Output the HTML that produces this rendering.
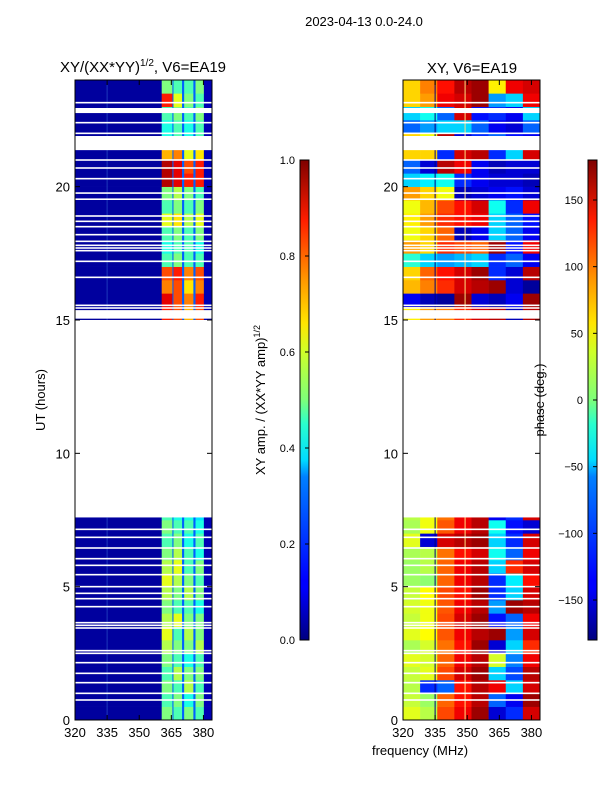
<!DOCTYPE html>
<html><head><meta charset="utf-8"><style>
body{margin:0;background:#fff;}
svg{display:block;font-family:"Liberation Sans","DejaVu Sans",sans-serif;}
</style></head><body>
<svg id="fig" width="600" height="800" viewBox="0 0 600 800">
<defs>
<linearGradient id="jet" x1="0" y1="1" x2="0" y2="0">
<stop offset="0" stop-color="#00007f"/><stop offset="0.11" stop-color="#0000ff"/><stop offset="0.125" stop-color="#0000ff"/>
<stop offset="0.34" stop-color="#0080ff"/><stop offset="0.375" stop-color="#00dcff"/><stop offset="0.45" stop-color="#29ffce"/>
<stop offset="0.5" stop-color="#7dff7a"/><stop offset="0.6" stop-color="#ceff29"/><stop offset="0.66" stop-color="#ffe500"/>
<stop offset="0.75" stop-color="#ff9800"/><stop offset="0.875" stop-color="#ff1d00"/><stop offset="1" stop-color="#7f0000"/>
</linearGradient>
</defs>
<g id="left"></g>
<g id="right"></g>
<g id="axes"></g>
<text x="364" y="26" font-size="13" text-anchor="middle">2023-04-13 0.0-24.0</text>
<text x="143" y="72" font-size="15" text-anchor="middle">XY/(XX*YY)<tspan font-size="10" dy="-6">1/2</tspan><tspan dy="6">, V6=EA19</tspan></text>
<text x="472" y="73" font-size="15" text-anchor="middle">XY, V6=EA19</text>
<text transform="translate(45,400) rotate(-90)" font-size="13" text-anchor="middle">UT (hours)</text>
<text x="420" y="755" font-size="13" text-anchor="middle">frequency (MHz)</text>
<text transform="translate(265,400) rotate(-90)" font-size="13" text-anchor="middle">XY amp. / (XX*YY amp)<tspan font-size="9" dy="-5">1/2</tspan></text>
<text transform="translate(544,400) rotate(-90)" font-size="13" text-anchor="middle">phase (deg.)</text>
<rect x="300" y="160" width="9" height="480" fill="url(#jet)" stroke="#000" stroke-width="1"/>
<rect x="588" y="160" width="9" height="480" fill="url(#jet)" stroke="#000" stroke-width="1"/>
<g id="cbticks"></g>
</svg>
<script>
// ---- data ----
const rowT0 = [0,0.5,1,1.5,2,2.5,3,3.5,4,4.5,5,5.5,6,6.5,7,7.5,15,15.5,16,16.5,17,17.5,18,18.5,19,19.5,20,20.5,21,21.5,22,22.5,23,23.5];
const rowT1 = [0.5,1,1.5,2,2.5,3,3.5,4,4.5,5,5.5,6,6.5,7,7.5,7.6,15.5,16,16.5,17,17.5,18,18.5,19,19.5,20,20.5,21,21.5,22,22.5,23,23.5,24];
const ampFreqEdges = [320,360.5,365.5,366,370,371,375.3,376.3,380.2,384];
const ampBg = 0.03, ampGap = 0.22, ampRight = 0.05;
const ampA = [0.5,0.45,0.5,0.45,0.5,0.55,0.6,0.55,0.5,0.55,0.6,0.55,0.5,0.45,0.5,0.45,0.85,0.9,0.75,0.8,0.45,0.4,0.45,0.6,0.45,0.5,0.95,0.95,0.7,0.4,0.4,0.45,0.85,0.5];
const ampB = [0.45,0.5,0.45,0.55,0.45,0.5,0.45,0.6,0.45,0.5,0.55,0.6,0.55,0.5,0.45,0.4,0.8,0.8,0.8,0.85,0.5,0.45,0.5,0.65,0.5,0.55,0.9,0.9,0.75,0.45,0.45,0.5,0.6,0.45];
const ampC = [0.5,0.4,0.55,0.5,0.4,0.5,0.55,0.5,0.45,0.55,0.5,0.45,0.45,0.4,0.45,0.4,0.7,0.75,0.65,0.75,0.45,0.45,0.45,0.55,0.45,0.5,0.85,0.8,0.6,0.4,0.4,0.45,0.5,0.45];
const ampD = [0.45,0.5,0.45,0.5,0.45,0.55,0.5,0.5,0.4,0.5,0.45,0.5,0.4,0.45,0.4,0.35,0.8,0.85,0.75,0.8,0.45,0.4,0.5,0.6,0.5,0.45,0.85,0.85,0.65,0.45,0.45,0.5,0.45,0.5];
const phaseFreqEdges = [320,328,336,344,352,360,368,376,384];
const phaseRows = [
[35,20,110,140,170,-150,-120,150],[25,10,100,130,160,-100,-140,170],[20,-120,-100,130,160,140,-60,150],
[25,35,110,150,170,-60,-110,160],[35,30,100,140,160,30,-90,140],[15,30,95,130,170,-150,-60,120],
[35,45,105,140,160,170,-80,150],[25,40,110,150,170,-130,-100,140],[30,40,105,140,160,-80,170,160],
[25,45,110,130,170,-120,-60,150],[10,5,100,140,160,-120,-50,130],[10,20,100,140,160,-60,120,150],
[15,20,95,130,150,-40,-100,140],[35,-150,150,160,170,-60,-120,150],[15,40,105,140,160,-40,-130,-150],
[20,40,95,140,160,-140,-120,150],
[50,80,90,120,150,160,-160,160],[-140,-160,-170,170,-150,-160,-140,170],[70,90,120,150,160,170,-150,-170],
[60,100,130,150,170,-120,-150,160],[-30,-60,-80,-70,-60,-120,-100,-140],[80,60,120,110,100,170,-130,140],
[40,60,100,-160,-140,-60,-100,-140],[50,80,120,130,140,-60,-100,-130],[40,70,110,130,150,-40,-120,140],
[80,60,40,-160,-150,-140,-130,-150],[-60,-50,-40,-120,-140,-150,-150,-160],[-100,-150,160,140,-140,-160,-150,-150],
[60,60,-120,150,160,-120,-60,150],[60,40,160,-150,-120,-100,-130,-140],[-100,-80,-60,-60,-100,-140,-150,-100],
[-60,-40,-100,150,-130,-120,-140,-60],[60,80,140,150,170,-80,-60,140],[60,90,130,160,170,50,140,150]];
const whiteLines = [7.15,6.85,6.45,6.05,5.8,5.45,5.0,4.75,4.55,4.25,3.65,3.55,3.45,2.6,2.5,2.15,1.75,1.4,1.0,0.75,23.15,22.4,22.0,21.0,20.7,20.3,19.76,19.53,18.9,18.7,18.5,18.2,17.95,17.8,17.7,17.6,17.2,16.6,15.55,15.45];
const whiteBandStart = [7.6,15.05,21.37,22.76];
const whiteBandEnd = [15.0,15.37,21.9,22.95];
const yTicks = [0,5,10,15,20];
const xTicks = [320,335,350,365,380];
const ampTicks = [0,0.2,0.4,0.6,0.8,1.0];
const phaseTicks = [-150,-100,-50,0,50,100,150];

// ---- scales ----
const NS='http://www.w3.org/2000/svg';
const Y0=720, Y1=80;
const yScale = h => Y0 - (h/24)*(Y0-Y1);
function xScaleFor(x0){ return f => x0 + (f-320)/(384-320)*137; }
const xL = xScaleFor(75), xR = xScaleFor(403);
function jet(v){
  v=Math.max(0,Math.min(1,v));
  const c=t=>Math.round(255*Math.max(0,Math.min(1,t)));
  return `rgb(${c(1.5-Math.abs(4*v-3))},${c(1.5-Math.abs(4*v-2))},${c(1.5-Math.abs(4*v-1))})`;
}
function mk(tag,attrs,parent){const e=document.createElementNS(NS,tag);for(const k in attrs)e.setAttribute(k,attrs[k]);parent.appendChild(e);return e;}

const gL=document.getElementById('left'), gR=document.getElementById('right'), gA=document.getElementById('axes'), gC=document.getElementById('cbticks');
for(let r=0;r<rowT0.length;r++){
  const vals=[ampBg,ampA[r],ampGap,ampB[r],ampGap,ampC[r],ampGap,ampD[r],ampRight];
  for(let c=0;c<vals.length;c++){
    const x0=xL(ampFreqEdges[c]), x1=xL(ampFreqEdges[c+1]);
    const el=mk('rect',{x:x0,y:yScale(rowT1[r]),width:x1-x0+0.3,height:yScale(rowT0[r])-yScale(rowT1[r])+0.3,fill:jet(vals[c])},gL);
    
    
  }
  for(let c=0;c<phaseRows[r].length;c++){
    const x0=xR(phaseFreqEdges[c]), x1=xR(phaseFreqEdges[c+1]);
    const el=mk('rect',{x:x0,y:yScale(rowT1[r]),width:x1-x0+0.3,height:yScale(rowT0[r])-yScale(rowT1[r])+0.3,fill:jet((phaseRows[r][c]+180)/360)},gR);
    
    
  }
}
mk('line',{x1:xL(335),x2:xL(335),y1:80,y2:720,stroke:'#3a6fd8','stroke-width':1,opacity:0.5},gL);
mk('line',{x1:xR(335),x2:xR(335),y1:80,y2:720,stroke:'#00007f','stroke-width':1},gR);
mk('line',{x1:xR(349),x2:xR(349),y1:80,y2:720,stroke:'#ffe080','stroke-width':1},gR);
[[gL,75],[gR,403]].forEach(([g,x0])=>{
  whiteLines.forEach(h=>{
    const el=mk('rect',{x:x0,y:yScale(h)-0.8,width:137,height:1.6,fill:'#fff'},g);
    
    
  });
  for(let i=0;i<whiteBandStart.length;i++){
    const el=mk('rect',{x:x0,y:yScale(whiteBandEnd[i]),width:137,height:yScale(whiteBandStart[i])-yScale(whiteBandEnd[i]),fill:'#fff'},g);
    
    
  }
});
[[75,xL],[403,xR]].forEach(([x0,xs],i)=>{
  const fr=mk('rect',{x:x0,y:80,width:137,height:640,fill:'none',stroke:'#000','stroke-width':1},gA);
  
  
  yTicks.forEach(t=>{
    const y=yScale(t);
    mk('line',{x1:x0,x2:x0+5,y1:y,y2:y,stroke:'#000'},gA);
    mk('line',{x1:x0+137,x2:x0+132,y1:y,y2:y,stroke:'#000'},gA);
    const tx=mk('text',{x:x0-5,y:y+5,'font-size':13,'text-anchor':'end'},gA);tx.textContent=t;
    
    
  });
  xTicks.forEach(t=>{
    const x=xs(t);
    mk('line',{x1:x,x2:x,y1:720,y2:715,stroke:'#000'},gA);
    mk('line',{x1:x,x2:x,y1:80,y2:85,stroke:'#000'},gA);
    const tx=mk('text',{x:x,y:737,'font-size':13,'text-anchor':'middle'},gA);tx.textContent=t;
    
    
  });
});
ampTicks.forEach(t=>{
  const y=640-t*480;
  mk('line',{x1:305,x2:309,y1:y,y2:y,stroke:'#000'},gC);
  const tx=mk('text',{x:295,y:y+4,'font-size':11,'text-anchor':'end'},gC);tx.textContent=t.toFixed(1);
  
  
});
phaseTicks.forEach(t=>{
  const y=400-t*480/360;
  mk('line',{x1:593,x2:597,y1:y,y2:y,stroke:'#000'},gC);
  const tx=mk('text',{x:583,y:y+4,'font-size':11,'text-anchor':'end'},gC);tx.textContent=t<0?'\u2212'+(-t):t;
  
  
});
</script>
</body></html>
